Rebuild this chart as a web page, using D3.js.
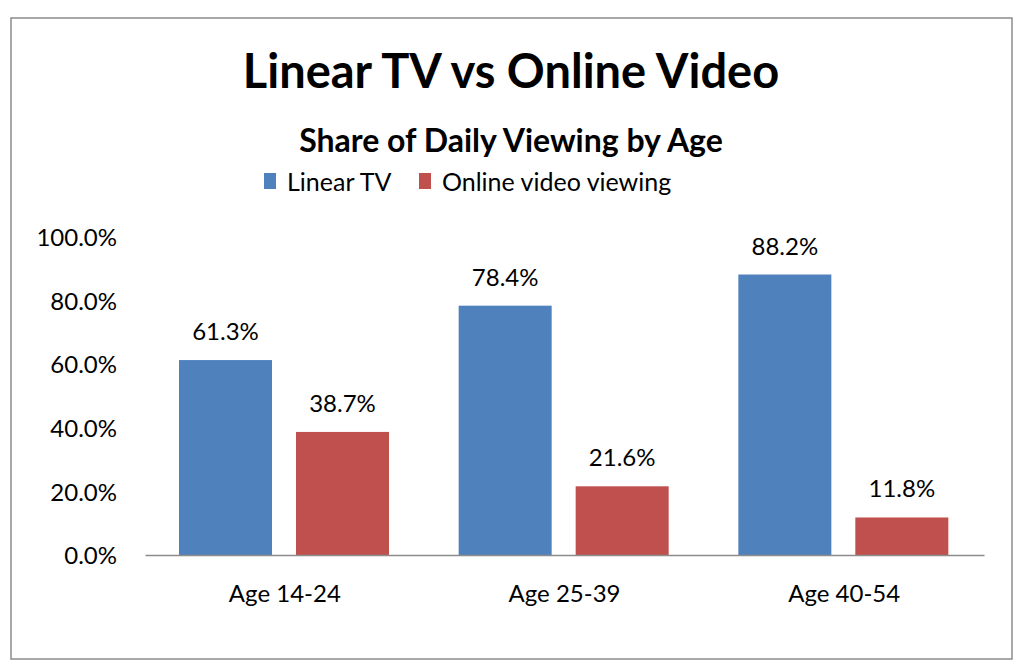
<!DOCTYPE html>
<html><head><meta charset="utf-8">
<script src="https://cdn.jsdelivr.net/npm/d3@7"></script>
<style>body{margin:0;background:#fff}svg{display:block}text{font-family:Lato,"Open Sans",sans-serif;fill:#000}</style>
</head><body>
<script>
const categories = ["Age 14-24", "Age 25-39", "Age 40-54"];
const seriesNames = ["Linear TV", "Online video viewing"];
const linearTV = [61.3, 78.4, 88.2];
const onlineVideo = [38.7, 21.6, 11.8];
const yTicks = [0, 20, 40, 60, 80, 100];
const colors = ["#4f81bd", "#c0504d"];

const W = 1024, H = 670;
const svg = d3.select("body").append("svg").attr("width", W).attr("height", H);
svg.append("rect").attr("x", 11).attr("y", 18).attr("width", 1001).attr("height", 641)
  .attr("fill", "#fff").attr("stroke", "#8c8c8c").attr("stroke-width", 1.5);

const x0 = d3.scaleBand().domain(categories).range([145, 984]).paddingInner(0).paddingOuter(0);
const x1 = d3.scaleBand().domain(seriesNames).range([34, 244]).paddingInner(0.205);
const y = d3.scaleLinear().domain([0, 100]).range([555, 237]);

const data = categories.map((c, i) => ({cat: c, vals: [linearTV[i], onlineVideo[i]]}));

// y axis labels
const yAxis = d3.axisLeft(y).tickValues(yTicks).tickSize(0).tickPadding(0).tickFormat(d => d.toFixed(1) + "%");
const ga = svg.append("g").attr("transform", "translate(117,0)").call(yAxis);
ga.select(".domain").remove();
ga.selectAll("text").style("font-size", "24px").style("font-family", "Lato, sans-serif").attr("fill", "#000").attr("dy", "0.36em");

const g = svg.selectAll(".grp").data(data).enter().append("g").attr("transform", d => `translate(${x0(d.cat)},0)`);
g.selectAll("rect").data(d => d.vals.map((v, j) => ({v, s: seriesNames[j], j}))).enter().append("rect")
  .attr("x", d => x1(d.s)).attr("width", x1.bandwidth())
  .attr("y", d => y(d.v)).attr("height", d => y(0) - y(d.v)).attr("fill", d => colors[d.j]);
g.selectAll("text.val").data(d => d.vals.map((v, j) => ({v, s: seriesNames[j], j}))).enter().append("text")
  .attr("class", "val").attr("x", d => x1(d.s) + x1.bandwidth() / 2).attr("y", d => y(d.v) - 20)
  .attr("text-anchor", "middle").style("font-size", "24px").text(d => d.v.toFixed(1) + "%");

// x axis
const xAxis = d3.axisBottom(x0).tickSize(0).tickPadding(30);
const gx = svg.append("g").attr("transform", `translate(0,${y(0)})`).call(xAxis);
gx.select(".domain").attr("stroke", "#8c8c8c").attr("stroke-width", 1.5);
gx.selectAll("text").style("font-size", "24px").style("font-family", "Lato, sans-serif").attr("fill", "#000");

// titles
svg.append("text").attr("x", 511).attr("y", 88).attr("text-anchor", "middle")
  .style("font-size", "47px").style("font-weight", "bold").text("Linear TV vs Online Video");
svg.append("text").attr("x", 511).attr("y", 152).attr("text-anchor", "middle")
  .style("font-size", "32px").style("font-weight", "bold").text("Share of Daily Viewing by Age");

// legend
const legX = [264, 419];
seriesNames.forEach((s, i) => {
  svg.append("rect").attr("x", legX[i]).attr("y", 173).attr("width", 12).attr("height", 16).attr("fill", colors[i]);
  svg.append("text").attr("x", legX[i] + 23).attr("y", 191).style("font-size", "25px").text(s);
});
</script>
</body></html>
